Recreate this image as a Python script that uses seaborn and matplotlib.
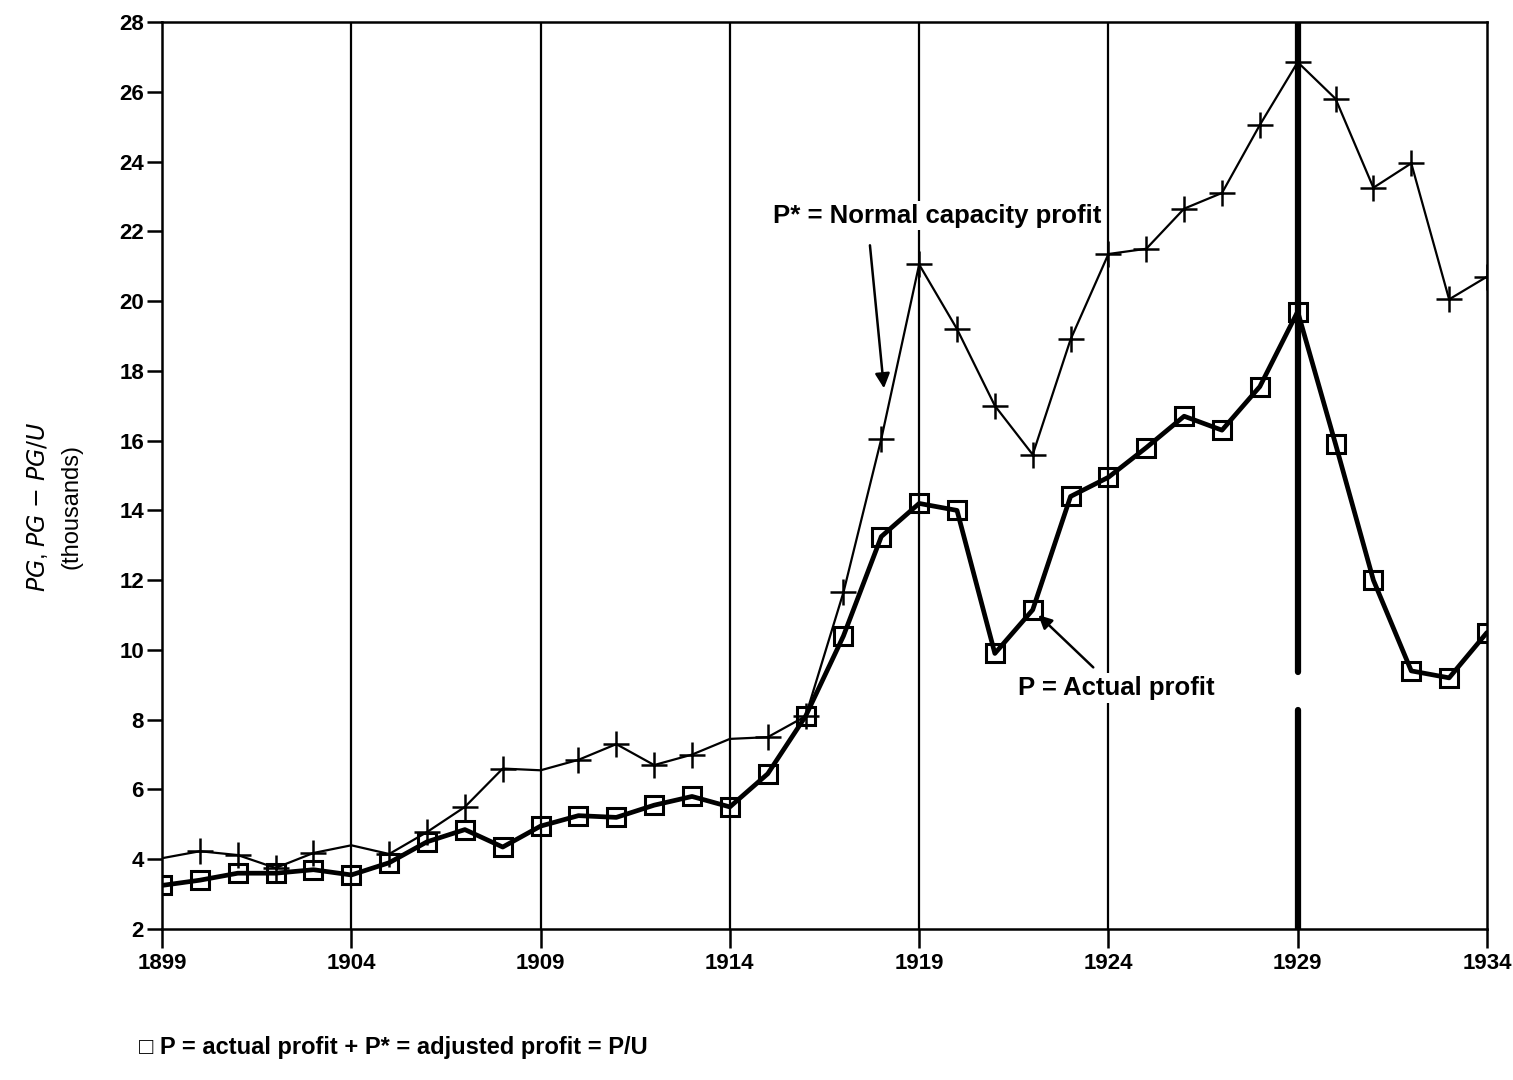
import matplotlib
matplotlib.use("Agg")
import matplotlib.pyplot as plt
import seaborn as sns
import pandas as pd
import numpy as np

years = list(range(1899, 1935))
actual_profit = [3.25, 3.4, 3.6, 3.6, 3.7, 3.55, 3.9, 4.5, 4.85, 4.35,
                 4.95, 5.25, 5.2, 5.55, 5.8, 5.5, 6.45, 8.1, 10.4, 13.25,
                 14.2, 14.0, 9.9, 11.15, 14.4, 14.95, 15.8, 16.7, 16.3, 17.55,
                 19.7, 15.9, 12.0, 9.4, 9.2, 10.5]
normal_profit = [4.03, 4.23, 4.12, 3.75, 4.18, 4.4, 4.15, 4.78, 5.5, 6.6,
                 6.55, 6.85, 7.3, 6.7, 7.0, 7.45, 7.5, 8.1, 11.65, 16.05,
                 21.05, 19.2, 17.0, 15.6, 18.9, 21.35, 21.5, 22.65, 23.1, 25.05,
                 26.85, 25.8, 23.25, 23.95, 20.05, 20.7]
normal_no_marker_years = [1899, 1904, 1909, 1914]
x_ticks = [1899, 1904, 1909, 1914, 1919, 1924, 1929, 1934]
y_ticks = list(range(2, 29, 2))

df = pd.DataFrame({"year": years, "actual": actual_profit, "normal": normal_profit})

sns.set_style("white")
plt.rcParams['font.family'] = ['Liberation Sans', 'DejaVu Sans']
plt.rcParams['text.color'] = 'black'
plt.rcParams['xtick.color'] = 'black'
plt.rcParams['ytick.color'] = 'black'

fig = plt.figure(figsize=(15.13, 10.8), dpi=100)
ax = fig.add_axes([0.1071, 0.1398, 0.8757, 0.8398])

# vertical grid lines
for yr in [1904, 1909, 1914, 1919, 1924]:
    ax.axvline(yr, color="black", lw=1.6, zorder=1)
ax.axvline(1929, ymin=0, ymax=(8.28 - 2) / 26, color="black", lw=4.5, zorder=1)
ax.axvline(1929, ymin=(9.36 - 2) / 26, ymax=1, color="black", lw=4.5, zorder=1)

mark_idx = [i for i, y in enumerate(years) if y not in normal_no_marker_years]
sns.lineplot(data=df, x="year", y="normal", ax=ax, color="black", lw=1.6,
             marker="+", markersize=19, markeredgewidth=1.8, markeredgecolor="black",
             markevery=mark_idx, zorder=3)
sns.lineplot(data=df, x="year", y="actual", ax=ax, color="black", lw=3.4,
             marker="s", markersize=12.5, markerfacecolor="none",
             markeredgecolor="black", markeredgewidth=2.2, zorder=4)

ax.set_xlim(1899, 1934)
ax.set_ylim(2, 28)
ax.set_xticks(x_ticks)
ax.set_xticks(years, minor=True)
ax.set_yticks(y_ticks)
ax.set_xticklabels([str(t) for t in x_ticks], fontsize=16, fontweight="bold")
ax.set_yticklabels([str(t) for t in y_ticks], fontsize=16, fontweight="bold")
ax.tick_params(axis="x", which="major", direction="out", length=14, width=1.8, pad=3)
ax.tick_params(axis="x", which="minor", direction="out", length=8, width=1.8)
ax.tick_params(axis="y", which="major", direction="out", length=11, width=1.8, pad=2)
ax.tick_params(bottom=True, left=True)
for s in ax.spines.values():
    s.set_color("black")
    s.set_linewidth(1.8)

ax.set_xlabel("")
ax.set_ylabel("")
fig.text(0.0245, 0.531, r"$PG$, $PG$ $-$ $PG/U$", rotation=90, ha="center", va="center",
         fontsize=17)
fig.text(0.047, 0.531, "(thousands)", rotation=90, ha="center", va="center", fontsize=17)

ax.text(1915.15, 22.45, "P* = Normal capacity profit", fontsize=18.5, fontweight="bold",
        ha="left", va="center", zorder=5,
        bbox=dict(facecolor="white", edgecolor="none", pad=2))
ax.annotate("", xy=(1918.07, 17.5), xytext=(1917.7, 21.6),
            arrowprops=dict(arrowstyle="-|>", color="black", lw=1.8, mutation_scale=22,
                            shrinkA=0, shrinkB=0))
ax.text(1921.6, 8.9, "P = Actual profit", fontsize=18.5, fontweight="bold",
        ha="left", va="center", zorder=5,
        bbox=dict(facecolor="white", edgecolor="none", pad=2))
ax.annotate("", xy=(1922.15, 11.0), xytext=(1923.6, 9.5),
            arrowprops=dict(arrowstyle="-|>", color="black", lw=1.8, mutation_scale=20,
                            shrinkA=0, shrinkB=0))

fig.text(0.092, 0.030, "\u25a1 P = actual profit + P* = adjusted profit = P/U",
         fontsize=17, fontweight="bold", ha="left", va="center")

fig.savefig("out.png", dpi=100)
